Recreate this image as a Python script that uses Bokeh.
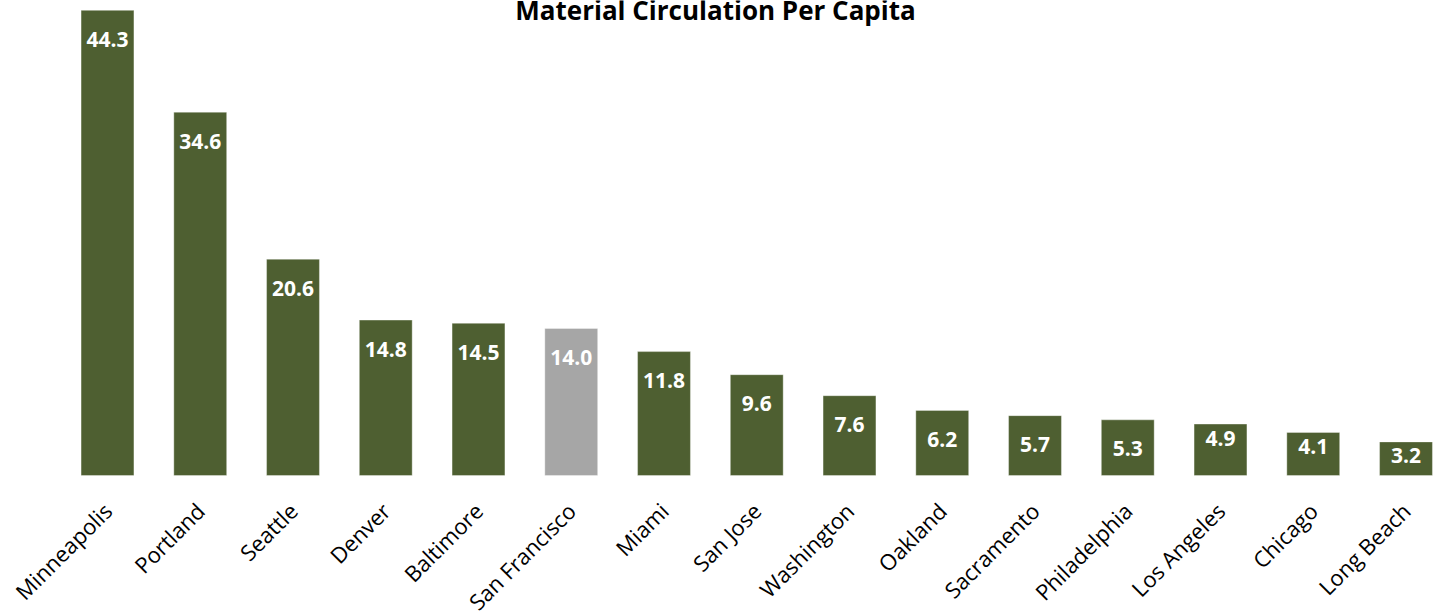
from bokeh.plotting import figure
from bokeh.models import ColumnDataSource, Range1d, FixedTicker, Label
from bokeh.embed import file_html
from bokeh.resources import INLINE
from bokeh.core.properties import value
import math

# ---- data ----
cities = ["Minneapolis", "Portland", "Seattle", "Denver", "Baltimore",
          "San Francisco", "Miami", "San Jose", "Washington", "Oakland",
          "Sacramento", "Philadelphia", "Los Angeles", "Chicago", "Long Beach"]
circulation = [44.3, 34.6, 20.6, 14.8, 14.5, 14.0, 11.8, 9.6, 7.6, 6.2,
               5.7, 5.3, 4.9, 4.1, 3.2]
highlight = "San Francisco"
title_text = "Material Circulation Per Capita"

GREEN = "#4E5F31"
GREY = "#A6A6A6"

W, H = 1440, 611
BASE_PX = 475          # pixel row of the bar baseline
PX_PER_UNIT = 10.5
step_px = 92.75
first_center_px = 107
x_start = -first_center_px / step_px
x_end = x_start + W / step_px
y_end = BASE_PX / PX_PER_UNIT
y_start = -(H - BASE_PX) / PX_PER_UNIT

xs = list(range(len(cities)))
colors = [GREY if c == highlight else GREEN for c in cities]
labels = [f"{v:.1f}" for v in circulation]
# labels sit inside the bar end; short bars get their label nudged up
yoff = [29 if v * PX_PER_UNIT >= 55 else 14 for v in circulation]

src = ColumnDataSource(dict(x=xs, top=circulation, color=colors,
                            label=labels, yoff=yoff))

p = figure(width=W, height=H, output_backend="svg", toolbar_location=None,
           x_range=Range1d(x_start, x_end), y_range=Range1d(y_start, y_end),
           min_border=0)
p.outline_line_color = None
p.background_fill_color = "white"
p.border_fill_color = "white"
p.xgrid.visible = False
p.ygrid.visible = False
p.yaxis.visible = False

p.vbar(x="x", top="top", bottom=0, width=0.57, source=src,
       fill_color="color", line_color="white", line_alpha=0.35, line_width=1)

p.text(x="x", y="top", text="label", source=src, y_offset="yoff",
       text_color="white", text_font=value("Open Sans"), text_font_style="bold",
       text_font_size="21px", text_align="center", text_baseline="alphabetic")

ax = p.xaxis[0]
ax.fixed_location = 0
ax.ticker = FixedTicker(ticks=xs)
ax.major_label_overrides = {i: c for i, c in zip(xs, cities)}
ax.major_label_orientation = math.pi / 4
ax.major_label_text_font = "Open Sans"
ax.major_label_text_font_size = "22px"
ax.major_label_text_color = "black"
ax.major_label_standoff = 25
ax.axis_line_color = None
ax.major_tick_line_color = None
ax.minor_tick_line_color = None

title = Label(x=715, y=H - 9, x_units="screen", y_units="screen",
              text=title_text, text_font="Open Sans", text_font_style="bold",
              text_font_size="26px", text_align="center",
              text_baseline="alphabetic", text_color="black")
p.add_layout(title)

open("out.html", "w").write(file_html(p, INLINE))
